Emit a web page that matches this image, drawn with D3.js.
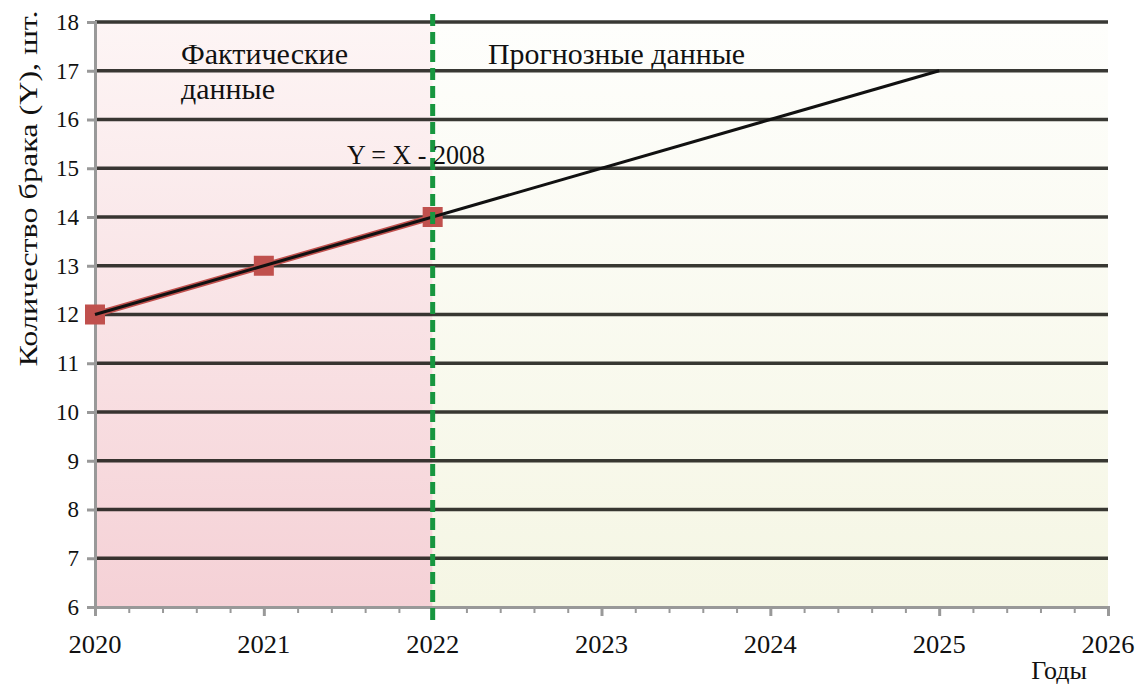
<!DOCTYPE html>
<html>
<head>
<meta charset="utf-8">
<script src="https://cdn.jsdelivr.net/npm/d3@7"></script>
<style>
  body { margin: 0; background: #fff; }
  svg text { font-family: 'Liberation Serif', serif; fill: #111; }
</style>
</head>
<body>
<div id="chart"></div>
<script>
const width = 1139;
const height = 684;

// Данные
const factYears = [2020, 2021, 2022];
const factValues = [12, 13, 14];
const trendYears = [2020, 2025];
const trendValues = [12, 17];
const splitYear = 2022;
const xTicks = [2020, 2021, 2022, 2023, 2024, 2025, 2026];
const yTicks = [6, 7, 8, 9, 10, 11, 12, 13, 14, 15, 16, 17, 18];

const margin = { top: 22, right: 31, bottom: 77, left: 95 };

const svg = d3.select("#chart")
  .append("svg")
  .attr("width", width)
  .attr("height", height)
  .style("font-family", "'Liberation Serif', serif");

const x = d3.scaleLinear().domain([2020, 2026]).range([margin.left, width - margin.right]);
const y = d3.scaleLinear().domain([6, 18]).range([height - margin.bottom, margin.top]);

// Градиенты фона
const defs = svg.append("defs");
const gFact = defs.append("linearGradient").attr("id", "gFact").attr("x1", 0).attr("y1", 0).attr("x2", 0).attr("y2", 1);
gFact.append("stop").attr("offset", "0%").attr("stop-color", "#fdf5f5");
gFact.append("stop").attr("offset", "100%").attr("stop-color", "#f5d1d6");
const gProg = defs.append("linearGradient").attr("id", "gProg").attr("x1", 0).attr("y1", 0).attr("x2", 0).attr("y2", 1);
gProg.append("stop").attr("offset", "0%").attr("stop-color", "#fefefc");
gProg.append("stop").attr("offset", "100%").attr("stop-color", "#f5f6e4");

svg.append("rect")
  .attr("x", x(2020)).attr("y", y(18))
  .attr("width", x(splitYear) - x(2020)).attr("height", y(6) - y(18))
  .attr("fill", "url(#gFact)");
svg.append("rect")
  .attr("x", x(splitYear)).attr("y", y(18))
  .attr("width", x(2026) - x(splitYear)).attr("height", y(6) - y(18))
  .attr("fill", "url(#gProg)");

// Сетка
svg.append("g")
  .selectAll("line")
  .data(yTicks.filter(d => d > 6))
  .enter()
  .append("line")
  .attr("x1", x(2020))
  .attr("x2", x(2026))
  .attr("y1", d => y(d))
  .attr("y2", d => y(d))
  .attr("stroke", "#151510")
  .attr("stroke-opacity", 0.85)
  .attr("stroke-width", 3.5);

// Ось Y
const yAxis = svg.append("g")
  .attr("transform", `translate(${margin.left},0)`)
  .call(d3.axisLeft(y).tickValues(yTicks).tickSize(8).tickPadding(8).tickFormat(d3.format("d")));
yAxis.attr("font-family", null).attr("font-size", null);
yAxis.select(".domain").attr("stroke", "#999").attr("stroke-width", 3);
yAxis.selectAll(".tick line").attr("stroke", "#999").attr("stroke-width", 3);
yAxis.selectAll("text").style("font-size", "23px").attr("fill", "#111");

// Ось X
const xAxis = svg.append("g")
  .attr("transform", `translate(0,${height - margin.bottom})`)
  .call(d3.axisBottom(x).tickValues(d3.range(2020, 2026.01, 0.2)).tickSize(6).tickFormat(""));
xAxis.select(".domain").attr("stroke", "#999").attr("stroke-width", 3);
xAxis.selectAll(".tick line").attr("stroke", "#999").attr("stroke-width", 2);
xAxis.selectAll(".tick")
  .filter(d => Math.abs(d - Math.round(d)) < 1e-6)
  .select("line").attr("y2", 9).attr("stroke-width", 3);

svg.append("g")
  .selectAll("text")
  .data(xTicks)
  .enter()
  .append("text")
  .attr("x", d => x(d))
  .attr("y", height - margin.bottom + 46)
  .attr("text-anchor", "middle")
  .style("font-size", "25px")
  .attr("textLength", 53)
  .attr("lengthAdjust", "spacingAndGlyphs")
  .text(d => d);

// Подписи осей
svg.append("text")
  .attr("transform", `translate(37,${(y(18) + y(6)) / 2 - 126}) rotate(-90)`)
  .attr("text-anchor", "middle")
  .style("font-size", "26px")
  .attr("textLength", 356)
  .attr("lengthAdjust", "spacingAndGlyphs")
  .text("Количество брака  (Y), шт.");

svg.append("text")
  .attr("x", 1087)
  .attr("y", 679)
  .attr("text-anchor", "end")
  .style("font-size", "26px")
  .text("Годы");

// Фактические данные
const line = d3.line().x((d, i) => x(d)).y((d, i) => y(factValues[i]));
svg.append("path")
  .datum(factYears)
  .attr("fill", "none")
  .attr("stroke", "#c0504d")
  .attr("stroke-width", 6)
  .attr("d", line);

svg.append("g")
  .selectAll("rect")
  .data(factYears)
  .enter()
  .append("rect")
  .attr("x", d => x(d) - 10)
  .attr("y", (d, i) => y(factValues[i]) - 10)
  .attr("width", 20)
  .attr("height", 20)
  .attr("fill", "#c0504d");

// Линия тренда
const trend = d3.line().x(d => x(d)).y((d, i) => y(trendValues[i]));
svg.append("path")
  .datum(trendYears)
  .attr("fill", "none")
  .attr("stroke", "#111")
  .attr("stroke-width", 3)
  .attr("d", trend);

// Граница факт/прогноз
svg.append("line")
  .attr("x1", x(splitYear))
  .attr("x2", x(splitYear))
  .attr("y1", y(18) - 8)
  .attr("y2", y(6) + 17)
  .attr("stroke", "#17963f")
  .attr("stroke-width", 5)
  .attr("stroke-dasharray", "12,6");

// Надписи
const notes = [
  { text: "Фактические", x: 181, y: 64, size: 29, len: 167 },
  { text: "данные", x: 181, y: 99, size: 29, len: 94 },
  { text: "Прогнозные данные", x: 488, y: 64, size: 29, len: 257 },
  { text: "Y = X - 2008", x: 347, y: 164, size: 27, len: 138 }
];
svg.append("g")
  .selectAll("text")
  .data(notes)
  .enter()
  .append("text")
  .attr("x", d => d.x)
  .attr("y", d => d.y)
  .style("font-size", d => d.size + "px")
  .attr("textLength", d => d.len)
  .attr("lengthAdjust", "spacingAndGlyphs")
  .text(d => d.text);
</script>
</body>
</html>
